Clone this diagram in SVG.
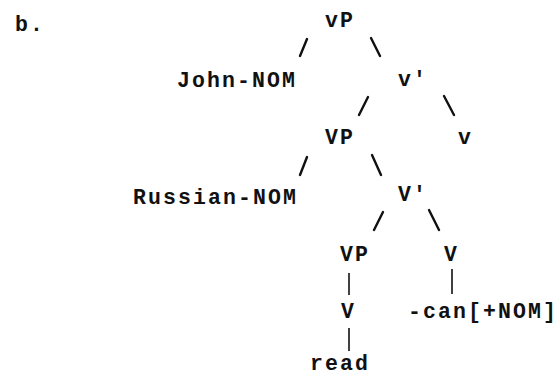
<svg xmlns="http://www.w3.org/2000/svg" width="560" height="376" viewBox="0 0 560 376">
  <style>
    .lbl { font-family: "Liberation Mono", "Courier New", monospace; font-weight: bold; font-size: 21.5px; letter-spacing: 2.1px; fill: #111; }
    .edge { stroke: #111; stroke-width: 2.4; stroke-linecap: round; fill: none; }
    .bar { stroke: #111; stroke-width: 1.6; fill: none; }
  </style>
  <rect width="560" height="376" fill="#fff"/>

  <text class="lbl" x="15" y="31">b.</text>

  <g id="connectors">
    <line class="edge" x1="307" y1="39" x2="300" y2="56"/>
    <line class="edge" x1="371" y1="38" x2="380" y2="56"/>
    <line class="edge" x1="368" y1="97" x2="359" y2="115"/>
    <line class="edge" x1="444" y1="96" x2="454" y2="115"/>
    <line class="edge" x1="307" y1="157" x2="300" y2="175"/>
    <line class="edge" x1="372" y1="155" x2="381" y2="175"/>
    <line class="edge" x1="383" y1="212" x2="374" y2="230"/>
    <line class="edge" x1="429" y1="210" x2="439" y2="230"/>
    <line class="bar" x1="349" y1="273" x2="349" y2="295"/>
    <line class="bar" x1="452" y1="269" x2="452" y2="294"/>
    <line class="bar" x1="349" y1="328" x2="349" y2="351"/>
  </g>

  <g id="n-vP"><text class="lbl" x="325" y="27">vP</text></g>
  <g id="n-john"><text class="lbl" x="177" y="87">John-NOM</text></g>
  <g id="n-vbar"><text class="lbl" x="398" y="86">v'</text></g>
  <g id="n-VP1"><text class="lbl" x="325" y="144">VP</text></g>
  <g id="n-v"><text class="lbl" x="458" y="144">v</text></g>
  <g id="n-russian"><text class="lbl" x="133" y="204">Russian-NOM</text></g>
  <g id="n-Vbar"><text class="lbl" x="398" y="201">V'</text></g>
  <g id="n-VP2"><text class="lbl" x="340" y="261">VP</text></g>
  <g id="n-V1"><text class="lbl" x="444" y="261">V</text></g>
  <g id="n-V2"><text class="lbl" x="341" y="318">V</text></g>
  <g id="n-can"><text class="lbl" x="408" y="318">-can[+NOM]</text></g>
  <g id="n-read"><text class="lbl" x="310" y="370">read</text></g>
</svg>
